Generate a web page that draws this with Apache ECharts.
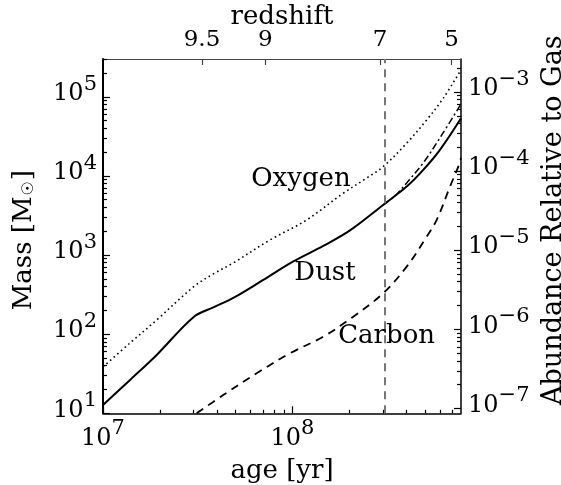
<!DOCTYPE html>
<html><head><meta charset="utf-8">
<script src="https://cdn.jsdelivr.net/npm/echarts@6/dist/echarts.min.js"></script>
<style>html,body{margin:0;padding:0;background:#fff}#c{width:561px;height:485px}</style>
</head><body><div id="c"></div>
<script>
// ---- data ----
const dustAge  = [1.0e7, 1.389e7, 1.92e7, 3.00e7, 3.82e7, 4.87e7, 7.01e7, 1.01e8, 1.454e8, 2.011e8, 3.01e8, 4.005e8, 4.90e8, 6.00e8, 7.75e8];
const dustMass = [12.7, 26.4, 54.6, 164, 218, 287, 484, 830, 1303, 2046, 4295, 7325, 11910, 21330, 53570];

const oxygenAge  = [1.0e7, 1.389e7, 1.92e7, 3.00e7, 3.82e7, 4.87e7, 7.61e7, 1.188e8, 1.854e8, 2.47e8, 3.01e8, 4.005e8, 5.11e8, 6.25e8, 7.75e8];
const oxygenMass = [38.5, 77.4, 151, 395, 577, 794, 1552, 2778, 6040, 9440, 13110, 25910, 51050, 95900, 218800];

const carbonAge  = [3.12e7, 4.31e7, 6.47e7, 9.70e7, 1.454e8, 2.093e8, 3.01e8, 4.005e8, 5.11e8, 5.77e8, 6.78e8, 7.50e8, 7.75e8];
const carbonMass = [10.0, 17.0, 32.0, 57.4, 93.0, 166.4, 329, 713, 1708, 2778, 7320, 13110, 16890];

const dustAltAge  = [3.01e8, 3.475e8, 4.005e8, 4.90e8, 6.00e8, 7.75e8];
const dustAltMass = [4295, 5585, 8155, 14600, 30230, 81280];

const transitionAge = 3.05e8;

const redshiftLabels = ['9.5', '9', '7', '5'];
const redshiftAges   = [3.33e7, 7.19e7, 2.895e8, 6.92e8];

const ageMajorTicks = [1e7, 1e8];
const ageMinorTicks = [2e7, 3e7, 4e7, 5e7, 6e7, 7e7, 8e7, 9e7, 2e8, 3e8, 4e8, 5e8, 6e8, 7e8];
const massMajorTicks = [10, 100, 1000, 10000, 100000];
const massMinorTicks = [20, 30, 40, 50, 60, 70, 80, 90,
  200, 300, 400, 500, 600, 700, 800, 900,
  2000, 3000, 4000, 5000, 6000, 7000, 8000, 9000,
  20000, 30000, 40000, 50000, 60000, 70000, 80000, 90000,
  200000, 300000];
const abundanceMajorTicks = [1e-7, 1e-6, 1e-5, 1e-4, 1e-3];
const abundanceMinorTicks = [2e-7, 3e-7, 4e-7, 5e-7, 6e-7, 7e-7, 8e-7, 9e-7,
  2e-6, 3e-6, 4e-6, 5e-6, 6e-6, 7e-6, 8e-6, 9e-6,
  2e-5, 3e-5, 4e-5, 5e-5, 6e-5, 7e-5, 8e-5, 9e-5,
  2e-4, 3e-4, 4e-4, 5e-4, 6e-4, 7e-4, 8e-4, 9e-4,
  2e-3];

const annotationTexts = ['Oxygen', 'Dust', 'Carbon'];
const annotationAges  = [1.109e8, 1.484e8, 3.14e8];
const annotationMass  = [9160, 594, 93.0];

// ---- chart ----
const FONT = 'DejaVu Serif';
const AGE_MIN = 1e7, AGE_MAX = 7.75e8;
const MASS_MIN = 10, MASS_MAX = 3e5;
const AB_MIN = 8.7e-8, AB_MAX = 2.61e-3;

function pairs(a, b) { return a.map((x, i) => [x, b[i]]); }
function powLabel(v) {
  const e = Math.round(Math.log10(v));
  return '{b|10}{s|' + (e < 0 ? '\u2212' + (-e) : String(e)) + '}';
}
const powRich = {
  b: { fontSize: 24, fontFamily: FONT, color: '#000', verticalAlign: 'bottom', padding: [0, 0, 14, 0] },
  s: { fontSize: 21, fontFamily: FONT, color: '#000', verticalAlign: 'bottom', padding: [0, 0, 25, 0] }
};
const nameStyle = { fontSize: 26, fontFamily: FONT, color: '#000' };

function minorAxisX(ticks) {
  return { type: 'log', position: 'bottom', min: AGE_MIN, max: AGE_MAX, logBase: 10,
    axisLine: { show: false }, splitLine: { show: false }, axisLabel: { show: false },
    axisTick: { show: true, inside: true, length: 3.5, customValues: ticks, lineStyle: { color: '#000', width: 1.2 } } };
}

const chart = echarts.init(document.getElementById('c'), null, { renderer: 'canvas' });
chart.setOption({
  animation: false,
  backgroundColor: '#fff',
  grid: { left: 103, right: 100, top: 59, bottom: 71.7, containLabel: false, outerBoundsMode: 'none' },
  xAxis: [
    { type: 'log', position: 'bottom', min: AGE_MIN, max: AGE_MAX, logBase: 10,
      name: 'age [yr]', nameLocation: 'middle', nameGap: 45, nameMoveOverlap: false, nameTextStyle: nameStyle,
      axisLine: { show: true, lineStyle: { color: '#000', width: 1.5 } },
      splitLine: { show: false },
      axisTick: { show: true, inside: true, length: 7, customValues: ageMajorTicks, lineStyle: { color: '#000', width: 1.2 } },
      axisLabel: { show: true, customValues: ageMajorTicks, formatter: powLabel, rich: powRich, margin: 5 } },
    { type: 'log', position: 'top', min: AGE_MIN, max: AGE_MAX, logBase: 10,
      name: 'redshift', nameLocation: 'middle', nameGap: 29, nameMoveOverlap: false, nameTextStyle: nameStyle,
      axisLine: { show: true, lineStyle: { color: '#444', width: 1.2 } },
      splitLine: { show: false },
      axisTick: { show: true, inside: true, length: 6, customValues: redshiftAges, lineStyle: { color: '#444', width: 1.2 } },
      axisLabel: { show: true, customValues: redshiftAges, margin: 7, fontSize: 23, fontFamily: FONT, color: '#000',
        formatter: function (v) {
          let best = 0, bd = Infinity;
          redshiftAges.forEach((a, i) => { const d = Math.abs(Math.log10(a) - Math.log10(v)); if (d < bd) { bd = d; best = i; } });
          return redshiftLabels[best];
        } } },
    minorAxisX(ageMinorTicks)
  ],
  yAxis: [
    { type: 'log', position: 'left', min: MASS_MIN, max: MASS_MAX, logBase: 10,
      name: '{a|Mass [M}{sub|\u2609}{a|]}', nameLocation: 'middle', nameRotate: 90, nameGap: 66, nameMoveOverlap: false,
      nameTextStyle: { color: '#000', padding: [0, 8, 0, 0], rich: {
        a: { fontSize: 26, fontFamily: FONT, color: '#000', verticalAlign: 'bottom' },
        sub: { fontSize: 16, fontFamily: 'DejaVu Sans', color: '#000', verticalAlign: 'bottom', padding: [0, 1, 0, 1] } } },
      axisLine: { show: true, lineStyle: { color: '#000', width: 2 } },
      splitLine: { show: false },
      axisTick: { show: true, inside: true, length: 7, customValues: massMajorTicks, lineStyle: { color: '#000', width: 1.2 } },
      axisLabel: { show: true, customValues: massMajorTicks, formatter: powLabel, rich: powRich, margin: 6 } },
    { type: 'log', position: 'right', min: AB_MIN, max: AB_MAX, logBase: 10,
      name: 'Abundance Relative to Gas', nameLocation: 'middle', nameRotate: 90, nameGap: 79, nameMoveOverlap: false,
      nameTextStyle: { fontSize: 27, fontFamily: FONT, color: '#000', padding: [0, 0, 0, 32] },
      axisLine: { show: true, lineStyle: { color: '#000', width: 1.5 } },
      splitLine: { show: false },
      axisTick: { show: true, inside: true, length: 7, customValues: abundanceMajorTicks, lineStyle: { color: '#000', width: 1.2 } },
      axisLabel: { show: true, customValues: abundanceMajorTicks, formatter: powLabel, rich: powRich, margin: 7 } },
    { type: 'log', position: 'left', min: MASS_MIN, max: MASS_MAX, logBase: 10,
      axisLine: { show: false }, splitLine: { show: false }, axisLabel: { show: false },
      axisTick: { show: true, inside: true, length: 4, customValues: massMinorTicks, lineStyle: { color: '#000', width: 1.2 } } },
    { type: 'log', position: 'right', min: AB_MIN, max: AB_MAX, logBase: 10,
      axisLine: { show: false }, splitLine: { show: false }, axisLabel: { show: false },
      axisTick: { show: true, inside: true, length: 4, customValues: abundanceMinorTicks, lineStyle: { color: '#000', width: 1.2 } } }
  ],
  series: [
    { type: 'line', name: 'Oxygen', xAxisIndex: 0, yAxisIndex: 0, data: pairs(oxygenAge, oxygenMass),
      symbol: 'none', smooth: 0.35, silent: true,
      lineStyle: { color: '#000', width: 1.6, type: [1.6, 3.2] } },
    { type: 'line', name: 'Dust', xAxisIndex: 0, yAxisIndex: 0, data: pairs(dustAge, dustMass),
      symbol: 'none', smooth: 0.35, silent: true,
      lineStyle: { color: '#000', width: 2 },
      markLine: { silent: true, symbol: ['none', 'none'], label: { show: false },
        lineStyle: { color: '#777', width: 2, type: [8, 6] }, data: [{ xAxis: transitionAge }] } },
    { type: 'line', name: 'Carbon', xAxisIndex: 0, yAxisIndex: 0, data: pairs(carbonAge, carbonMass),
      symbol: 'none', smooth: 0.35, silent: true,
      lineStyle: { color: '#000', width: 1.8, type: [8, 6] } },
    { type: 'line', name: 'DustAlt', xAxisIndex: 0, yAxisIndex: 0, data: pairs(dustAltAge, dustAltMass),
      symbol: 'none', smooth: 0.35, silent: true,
      lineStyle: { color: '#000', width: 1.5, type: [7, 3, 2, 3] } },
    { type: 'scatter', name: 'labels', xAxisIndex: 0, yAxisIndex: 0, silent: true,
      data: annotationTexts.map((t, i) => [annotationAges[i], annotationMass[i], t]),
      symbolSize: 1, itemStyle: { color: 'rgba(0,0,0,0)', opacity: 1 },
      label: { show: true, position: 'inside', formatter: p => p.data[2], opacity: 1,
        fontSize: 26, fontFamily: FONT, color: '#000', textBorderWidth: 0 } }
  ]
});
</script>
</body></html>
